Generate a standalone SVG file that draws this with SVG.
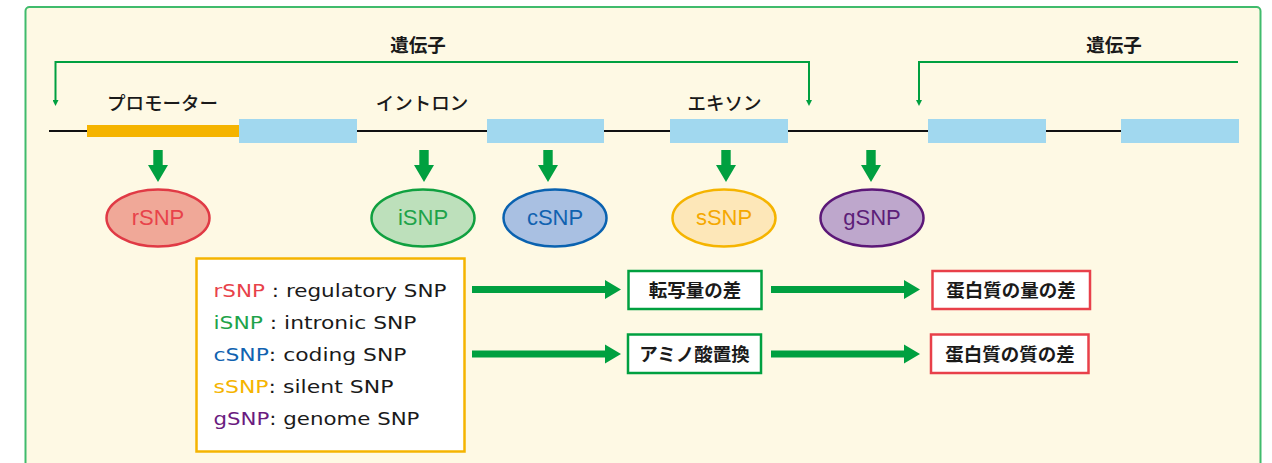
<svg xmlns="http://www.w3.org/2000/svg" width="1272" height="463" viewBox="0 0 1272 463">
<defs>
<style>
.jp{font-family:"Noto Sans CJK JP","Noto Sans CJK SC",sans-serif;font-size:18.5px;fill:#1a1a1a;text-anchor:middle}
.b{font-weight:700}
.m{font-weight:500}
.snp{font-family:"Liberation Sans",Arial,sans-serif;font-size:22px;text-anchor:middle}
.lg{font-family:"DejaVu Sans","Liberation Sans",sans-serif;font-size:18px;fill:#1a1a1a}
.exon{fill:#a1d8ef}
.ell{stroke-width:2.5}
.arr{fill:#00a040}
.gbox{fill:#fff;stroke:#00a040;stroke-width:2.5}
.rbox{fill:#fff;stroke:#e8404a;stroke-width:2.5}
.br{fill:none;stroke:#00a040;stroke-width:2}
</style>
<marker id="tip" viewBox="0 0 6 6" refX="0" refY="3" markerWidth="6" markerHeight="6" markerUnits="userSpaceOnUse" orient="auto-start-reverse">
<path d="M0,0 L6,3 L0,6 Z" fill="#00a040"/>
</marker>
<path id="down" d="M-4.7,-32 H4.7 V-17 H10 L0,0 L-10,-17 H-4.7 Z"/>
<path id="right" d="M0,-3.6 H133 V-9.5 L149,0 L133,9.5 V3.6 H0 Z"/>
</defs>

<rect x="25.5" y="7" width="1235" height="470" rx="4" fill="#fef9e4" stroke="#40bb6c" stroke-width="2"/>

<g id="gene-line">
<line x1="49" y1="131" x2="1238" y2="131" stroke="#111" stroke-width="1.8"/>
<rect x="87" y="125" width="152" height="12" fill="#f5b400"/>
<rect class="exon" x="239" y="119" width="118" height="24"/>
<rect class="exon" x="487" y="119" width="117" height="24"/>
<rect class="exon" x="670" y="119" width="118" height="24"/>
<rect class="exon" x="928" y="119" width="118" height="24"/>
<rect class="exon" x="1121" y="119" width="118" height="24"/>
</g>

<g id="labels">
<text class="jp b" x="418" y="52">遺伝子</text>
<text class="jp b" x="1114" y="52">遺伝子</text>
<text class="jp m" x="162.5" y="110">プロモーター</text>
<text class="jp m" x="422" y="110">イントロン</text>
<text class="jp m" x="724.5" y="110">エキソン</text>
</g>

<g id="connectors">
<path class="br" d="M55.5,100 V62 H809 V100" marker-start="url(#tip)" marker-end="url(#tip)"/>
<path class="br" d="M1238,62 H919 V100" marker-end="url(#tip)"/>
<use href="#down" class="arr" x="158" y="182"/>
<use href="#down" class="arr" x="424" y="182"/>
<use href="#down" class="arr" x="548" y="182"/>
<use href="#down" class="arr" x="726" y="182"/>
<use href="#down" class="arr" x="871" y="182"/>
<use href="#right" class="arr" x="472" y="289.5"/>
<use href="#right" class="arr" x="472" y="354"/>
<use href="#right" class="arr" x="771" y="289.5"/>
<use href="#right" class="arr" x="771" y="354"/>
</g>

<g id="rSNP">
<ellipse class="ell" cx="158" cy="218" rx="51.5" ry="28.5" fill="#f0a898" stroke="#e03a45"/>
<text class="snp" x="158" y="225" fill="#e8424a">rSNP</text>
</g>
<g id="iSNP">
<ellipse class="ell" cx="423" cy="218" rx="51.5" ry="28.5" fill="#bde0bb" stroke="#10a040"/>
<text class="snp" x="423" y="225" fill="#1ea34a">iSNP</text>
</g>
<g id="cSNP">
<ellipse class="ell" cx="555" cy="218" rx="51.5" ry="28.5" fill="#a9c0e2" stroke="#0a62b0"/>
<text class="snp" x="555" y="225" fill="#1062b0">cSNP</text>
</g>
<g id="sSNP">
<ellipse class="ell" cx="724" cy="218" rx="51.5" ry="28.5" fill="#fde7b8" stroke="#f5b400"/>
<text class="snp" x="724" y="225" fill="#f5a800">sSNP</text>
</g>
<g id="gSNP">
<ellipse class="ell" cx="872" cy="218" rx="51.5" ry="28.5" fill="#bea7cc" stroke="#5c1878"/>
<text class="snp" x="872" y="225" fill="#5c1e78">gSNP</text>
</g>

<g id="legend">
<rect x="196.5" y="258.5" width="268" height="193" fill="#fff" stroke="#f5b400" stroke-width="2.5"/>
<text class="lg" x="213.5" y="296.5" textLength="233" lengthAdjust="spacingAndGlyphs"><tspan fill="#e8424a">rSNP</tspan> : regulatory SNP</text>
<text class="lg" x="213.5" y="329" textLength="203" lengthAdjust="spacingAndGlyphs"><tspan fill="#1ea34a">iSNP</tspan> : intronic SNP</text>
<text class="lg" x="213.5" y="361" textLength="193" lengthAdjust="spacingAndGlyphs"><tspan fill="#1062b0">cSNP</tspan>: coding SNP</text>
<text class="lg" x="213.5" y="393" textLength="180" lengthAdjust="spacingAndGlyphs"><tspan fill="#f5b400">sSNP</tspan>: silent SNP</text>
<text class="lg" x="213.5" y="425" textLength="206" lengthAdjust="spacingAndGlyphs"><tspan fill="#6a1b80">gSNP</tspan>: genome SNP</text>
</g>

<g id="transcription">
<rect class="gbox" x="628.5" y="271" width="133" height="38"/>
<text class="jp b" x="695" y="297">転写量の差</text>
</g>
<g id="amino">
<rect class="gbox" x="628" y="334.5" width="133" height="38.5"/>
<text class="jp b" x="694.5" y="361">アミノ酸置換</text>
</g>
<g id="protein-quantity">
<rect class="rbox" x="932.5" y="271" width="157.5" height="38"/>
<text class="jp b" x="1011" y="297">蛋白質の量の差</text>
</g>
<g id="protein-quality">
<rect class="rbox" x="931" y="334.5" width="157.5" height="38.5"/>
<text class="jp b" x="1010" y="361">蛋白質の質の差</text>
</g>
</svg>
